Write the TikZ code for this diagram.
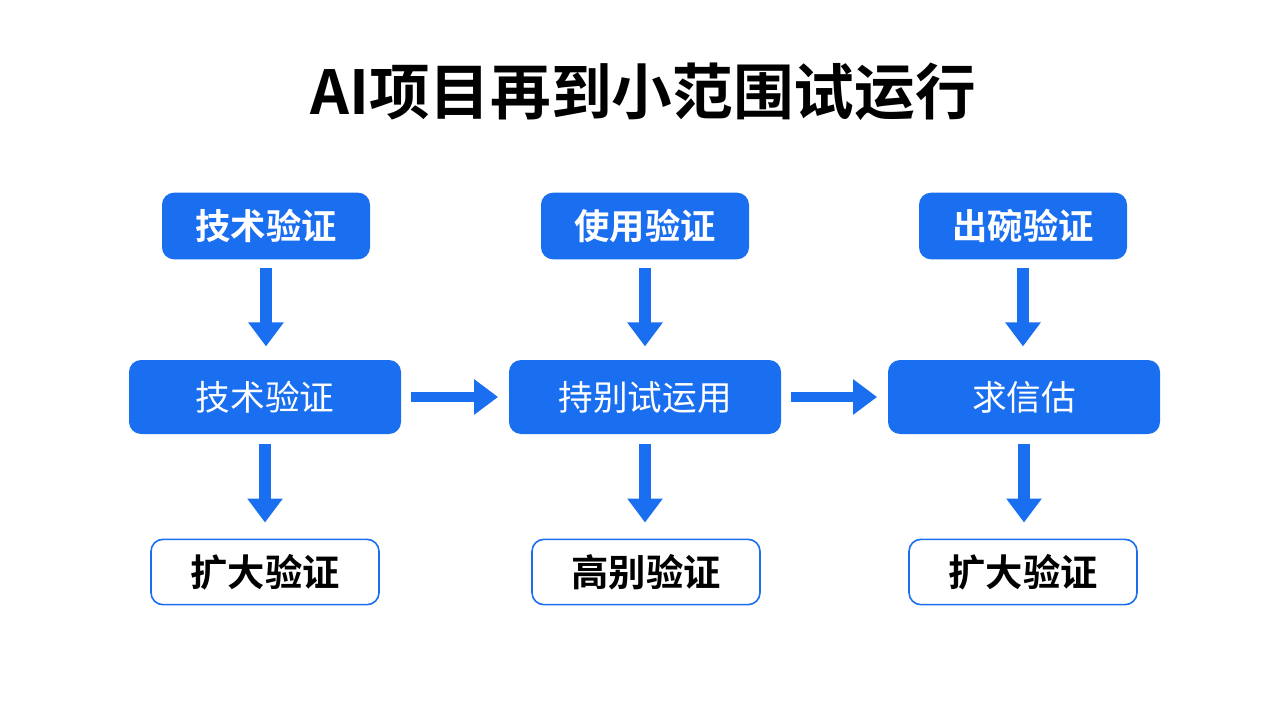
\documentclass[tikz,border=0pt]{standalone}
\usepackage{fontspec}
\setmainfont{Noto Sans CJK SC}[BoldFont=* Bold]
\usetikzlibrary{arrows.meta}
\definecolor{mblue}{HTML}{1A6EF0}
\begin{document}
\begin{tikzpicture}[x=0.75pt,y=-0.75pt,
  topbox/.style={fill=mblue,rounded corners=9pt,minimum width=156pt,minimum height=50pt,text=white,font=\bfseries\fontsize{26.5}{30}\selectfont,inner sep=0pt},
  midbox/.style={fill=mblue,rounded corners=9pt,minimum width=204pt,minimum height=55.5pt,text=white,font=\fontsize{26}{30}\selectfont,inner sep=0pt},
  botbox/.style={draw=mblue,line width=1.2pt,fill=white,rounded corners=9pt,minimum width=171pt,minimum height=49pt,text=black,font=\bfseries\fontsize{28}{32}\selectfont,inner sep=0pt},
  flow/.style={draw=mblue,line width=9pt,-{Triangle[width=25.5pt,length=18pt]}}
]
\useasboundingbox (0,0) rectangle (1280,720);
\node[font=\bfseries\fontsize{45.5}{52}\selectfont] (title) at (643,92) {AI项目再到小范围试运行};

\node[topbox] (t1) at (266,226) {技术验证};
\node[topbox] (t2) at (645,226) {使用验证};
\node[topbox] (t3) at (1023,226) {出碗验证};

\node[midbox] (m1) at (265,397) {技术验证};
\node[midbox] (m2) at (645,397) {持别试运用};
\node[midbox] (m3) at (1024,397) {求信估};

\node[botbox] (b1) at (265,572) {扩大验证};
\node[botbox] (b2) at (646,572) {高别验证};
\node[botbox] (b3) at (1023,572) {扩大验证};

\draw[flow,shorten <=6pt,shorten >=10pt] (t1.south) -- (t1.south |- m1.north);
\draw[flow,shorten <=6pt,shorten >=10pt] (t2.south) -- (t2.south |- m2.north);
\draw[flow,shorten <=6pt,shorten >=10pt] (t3.south) -- (t3.south |- m3.north);
\draw[flow,shorten <=7pt,shorten >=12pt] (m1.south) -- (m1.south |- b1.north);
\draw[flow,shorten <=7pt,shorten >=12pt] (m2.south) -- (m2.south |- b2.north);
\draw[flow,shorten <=7pt,shorten >=12pt] (m3.south) -- (m3.south |- b3.north);
\draw[flow,line width=7.5pt,shorten <=7pt,shorten >=8pt] (m1.east) -- (m2.west);
\draw[flow,line width=7.5pt,shorten <=7pt,shorten >=8pt] (m2.east) -- (m3.west);
\end{tikzpicture}
\end{document}
